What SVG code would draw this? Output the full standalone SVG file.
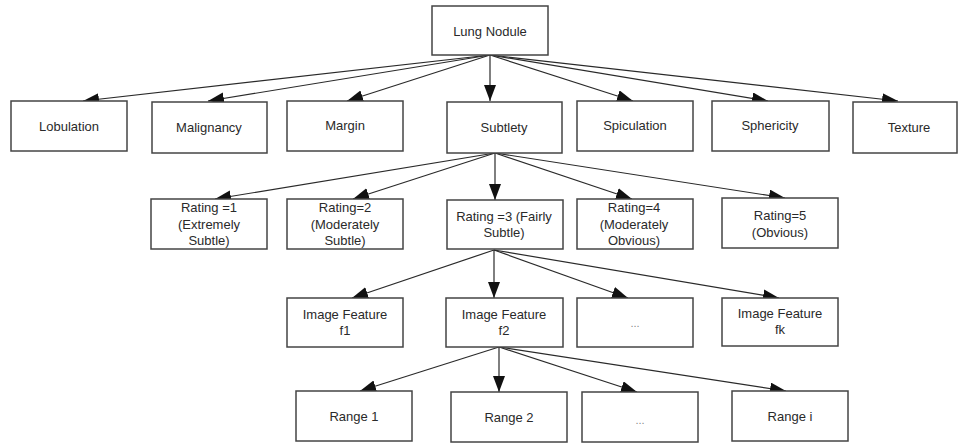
<svg xmlns="http://www.w3.org/2000/svg" width="960" height="443" viewBox="0 0 960 443">
  <style>
    .box { fill: #ffffff; stroke: #444444; stroke-width: 1.5; }
    .lbl { font-family: "Liberation Sans", Arial, sans-serif; font-size: 13px; fill: #2a2a2a; text-anchor: middle; }
    .dots { font-family: "Liberation Sans", Arial, sans-serif; font-size: 11px; fill: #888888; text-anchor: middle; }
    .edge { stroke: #2a2a2a; stroke-width: 1.2; fill: none; marker-end: url(#arrow); }
  </style>
  <defs>
    <marker id="arrow" markerUnits="userSpaceOnUse" markerWidth="17" markerHeight="13" refX="16" refY="6" orient="auto">
      <path d="M0,0 L16,6 L0,12 Z" fill="#111111"/>
    </marker>
  </defs>
  <rect width="960" height="443" fill="#ffffff"/>

  <!-- connectors -->
  <g id="connectors">
    <!-- Lung Nodule to attributes -->
    <line class="edge" x1="490" y1="55" x2="83" y2="101"/>
    <line class="edge" x1="490" y1="55" x2="208" y2="101"/>
    <line class="edge" x1="490" y1="55" x2="347" y2="101"/>
    <line class="edge" x1="490" y1="55" x2="490" y2="101"/>
    <line class="edge" x1="490" y1="55" x2="633" y2="101"/>
    <line class="edge" x1="490" y1="55" x2="768" y2="101"/>
    <line class="edge" x1="490" y1="55" x2="898" y2="101"/>
    <!-- Subtlety to ratings -->
    <line class="edge" x1="495" y1="153" x2="215" y2="199"/>
    <line class="edge" x1="495" y1="153" x2="353" y2="199"/>
    <line class="edge" x1="495" y1="153" x2="495" y2="200"/>
    <line class="edge" x1="495" y1="153" x2="632" y2="199"/>
    <line class="edge" x1="495" y1="153" x2="785" y2="198"/>
    <!-- Rating 3 to image features -->
    <line class="edge" x1="494" y1="250" x2="352" y2="298"/>
    <line class="edge" x1="494" y1="250" x2="494" y2="298"/>
    <line class="edge" x1="494" y1="250" x2="628" y2="298"/>
    <line class="edge" x1="494" y1="250" x2="779" y2="298"/>
    <!-- Image feature f2 to ranges -->
    <line class="edge" x1="499" y1="347" x2="360" y2="391"/>
    <line class="edge" x1="499" y1="347" x2="499" y2="392"/>
    <line class="edge" x1="499" y1="347" x2="637" y2="392"/>
    <line class="edge" x1="499" y1="347" x2="786" y2="391"/>
  </g>

  <!-- root -->
  <g id="lung-nodule">
    <rect class="box" x="432" y="6" width="116" height="49"/>
    <text class="lbl" x="490" y="36">Lung Nodule</text>
  </g>

  <!-- attributes -->
  <g id="lobulation">
    <rect class="box" x="11" y="101" width="116" height="50"/>
    <text class="lbl" x="69" y="131">Lobulation</text>
  </g>
  <g id="malignancy">
    <rect class="box" x="152" y="102" width="115" height="51"/>
    <text class="lbl" x="209" y="132">Malignancy</text>
  </g>
  <g id="margin">
    <rect class="box" x="287" y="101" width="116" height="50"/>
    <text class="lbl" x="345" y="130">Margin</text>
  </g>
  <g id="subtlety">
    <rect class="box" x="447" y="102" width="115" height="51"/>
    <text class="lbl" x="504" y="132">Subtlety</text>
  </g>
  <g id="spiculation">
    <rect class="box" x="577" y="101" width="116" height="50"/>
    <text class="lbl" x="635" y="130">Spiculation</text>
  </g>
  <g id="sphericity">
    <rect class="box" x="712" y="101" width="117" height="50"/>
    <text class="lbl" x="770" y="130">Sphericity</text>
  </g>
  <g id="texture">
    <rect class="box" x="853" y="102" width="104" height="51"/>
    <text class="lbl" x="909" y="132">Texture</text>
  </g>

  <!-- subtlety ratings -->
  <g id="rating-1">
    <rect class="box" x="151" y="199" width="116" height="50"/>
    <text class="lbl" x="209" y="212">Rating =1</text>
    <text class="lbl" x="209" y="229">(Extremely</text>
    <text class="lbl" x="209" y="245">Subtle)</text>
  </g>
  <g id="rating-2">
    <rect class="box" x="287" y="199" width="116" height="50"/>
    <text class="lbl" x="345" y="212">Rating=2</text>
    <text class="lbl" x="345" y="229">(Moderately</text>
    <text class="lbl" x="345" y="245">Subtle)</text>
  </g>
  <g id="rating-3">
    <rect class="box" x="447" y="200" width="116" height="49"/>
    <text class="lbl" x="504" y="221">Rating =3 (Fairly</text>
    <text class="lbl" x="504" y="237">Subtle)</text>
  </g>
  <g id="rating-4">
    <rect class="box" x="577" y="199" width="116" height="50"/>
    <text class="lbl" x="634" y="212">Rating=4</text>
    <text class="lbl" x="634" y="229">(Moderately</text>
    <text class="lbl" x="634" y="245">Obvious)</text>
  </g>
  <g id="rating-5">
    <rect class="box" x="722" y="198" width="116" height="50"/>
    <text class="lbl" x="780" y="220">Rating=5</text>
    <text class="lbl" x="780" y="237">(Obvious)</text>
  </g>

  <!-- image features -->
  <g id="feature-f1">
    <rect class="box" x="287" y="298" width="116" height="49"/>
    <text class="lbl" x="345" y="319">Image Feature</text>
    <text class="lbl" x="345" y="335">f1</text>
  </g>
  <g id="feature-f2">
    <rect class="box" x="446" y="298" width="117" height="49"/>
    <text class="lbl" x="504" y="319">Image Feature</text>
    <text class="lbl" x="504" y="335">f2</text>
  </g>
  <g id="feature-more">
    <rect class="box" x="577" y="298" width="116" height="49"/>
    <text class="dots" x="635" y="327">...</text>
  </g>
  <g id="feature-fk">
    <rect class="box" x="722" y="298" width="116" height="48"/>
    <text class="lbl" x="780" y="318">Image Feature</text>
    <text class="lbl" x="780" y="334">fk</text>
  </g>

  <!-- ranges -->
  <g id="range-1">
    <rect class="box" x="296" y="391" width="116" height="50"/>
    <text class="lbl" x="354" y="421">Range 1</text>
  </g>
  <g id="range-2">
    <rect class="box" x="451" y="392" width="116" height="50"/>
    <text class="lbl" x="509" y="422">Range 2</text>
  </g>
  <g id="range-more">
    <rect class="box" x="582" y="392" width="116" height="50"/>
    <text class="dots" x="640" y="424">...</text>
  </g>
  <g id="range-i">
    <rect class="box" x="732" y="391" width="116" height="50"/>
    <text class="lbl" x="790" y="421">Range i</text>
  </g>
</svg>
